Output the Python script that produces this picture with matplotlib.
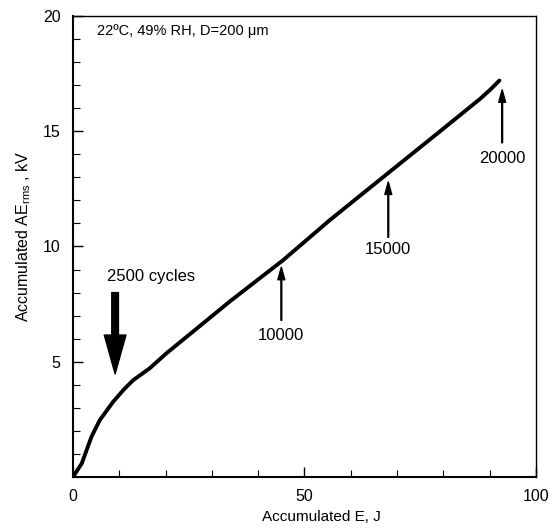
import matplotlib
matplotlib.use("Agg")
import matplotlib.pyplot as plt
from matplotlib.ticker import MultipleLocator

plt.rcParams["font.family"] = ["Liberation Sans", "DejaVu Sans"]
plt.rcParams["mathtext.default"] = "regular"

# curve: accumulated energy (J) vs accumulated AE rms (kV)
energy = [0, 1.9, 4.0, 5.8, 8.7, 11.0, 13.0, 16.6, 20.2, 27.4, 33.9, 45.4, 55.5, 66.3, 79.3, 87.9, 90.1, 92.1]
ae_rms = [0, 0.59, 1.75, 2.47, 3.27, 3.8, 4.2, 4.72, 5.37, 6.55, 7.62, 9.41, 11.15, 12.9, 15.0, 16.4, 16.8, 17.2]

# cycle markers: label, arrow x, tip y, tail y, label y
marks = ["10000", "15000", "20000"]
mark_x = [45.0, 68.1, 92.7]
mark_tip = [9.1, 12.8, 16.8]
mark_tail = [6.8, 10.4, 14.5]
mark_text_y = [6.15, 9.87, 13.8]


def main() -> None:
    fig = plt.figure(figsize=(5.5, 5.28), dpi=100)
    ax = fig.add_axes([0.1327, 0.0966, 0.8418, 0.8731])
    ax.plot(energy, ae_rms, color="black", lw=2.8, solid_capstyle="round")

    for lab, x, tip, tail, ty in zip(marks, mark_x, mark_tip, mark_tail, mark_text_y):
        ax.annotate("", xy=(x, tip), xytext=(x, tail),
                    arrowprops=dict(facecolor="black", edgecolor="black",
                                    width=0.6, headwidth=5, headlength=9, shrink=0))
        ax.text(x, ty, lab, ha="center", va="center", fontsize=12)

    ax.annotate("", xy=(9.1, 4.47), xytext=(9.1, 8.0),
                arrowprops=dict(facecolor="black", edgecolor="black",
                                width=4.8, headwidth=15.6, headlength=28, shrink=0))
    ax.text(16.8, 8.7, "2500 cycles", ha="center", va="center", fontsize=12)
    ax.text(5.1, 19.37, "22ºC, 49% RH, D=200 μm", ha="left", va="center", fontsize=10.5)

    ax.set_xlim(0, 100)
    ax.set_ylim(0, 20)
    ax.set_xticks([0, 50, 100])
    ax.set_yticks([5, 10, 15, 20])
    ax.xaxis.set_minor_locator(MultipleLocator(10))
    ax.yaxis.set_minor_locator(MultipleLocator(1))
    ax.tick_params(which="both", direction="in", top=False, right=False, labelsize=11.5)
    ax.tick_params(which="major", length=7, width=1)
    ax.tick_params(which="minor", length=5, width=0.8)
    ax.tick_params(axis="x", pad=9)
    ax.tick_params(axis="y", pad=9)
    for side in ["left", "bottom"]:
        ax.spines[side].set_linewidth(1.5)
    for side in ["top", "right"]:
        ax.spines[side].set_linewidth(1.0)

    ax.set_xlabel("Accumulated E, J", fontsize=11)
    ax.set_ylabel("Accumulated AE$_{rms}$ , kV", fontsize=11.5)
    ax.xaxis.set_label_coords(0.536, -0.072)
    ax.yaxis.set_label_coords(-0.086, 0.522)
    fig.savefig("out.png", dpi=100)


if __name__ == "__main__":
    main()
